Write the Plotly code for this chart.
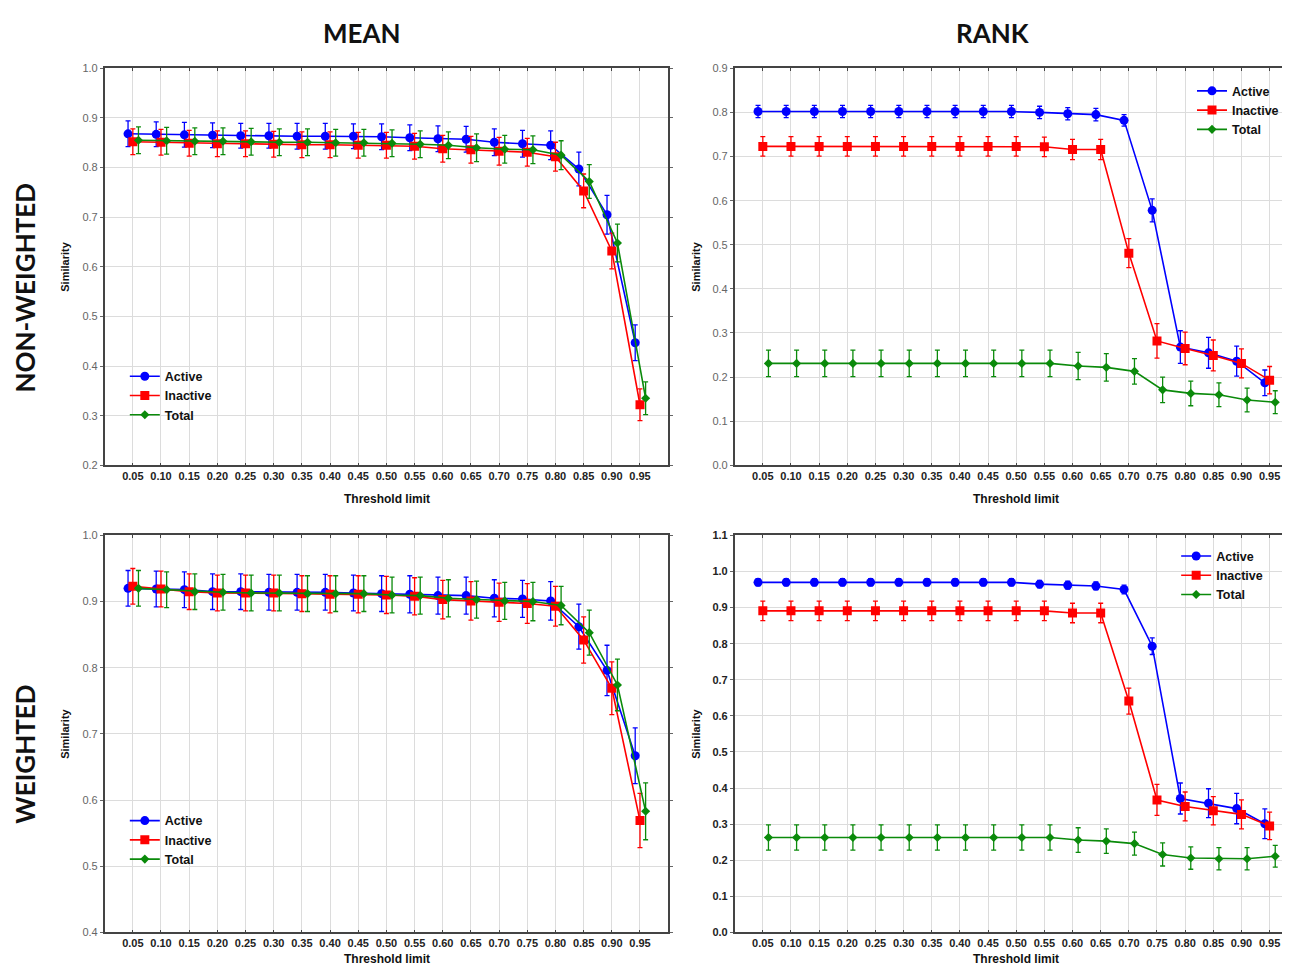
import plotly.graph_objects as go

thresholds = ["0.05", "0.10", "0.15", "0.20", "0.25", "0.30", "0.35", "0.40", "0.45", "0.50",
              "0.55", "0.60", "0.65", "0.70", "0.75", "0.80", "0.85", "0.90", "0.95"]
series_names = ["Active", "Inactive", "Total"]

# MEAN, non-weighted
mean_nw_active = [0.868, 0.867, 0.866, 0.865, 0.864, 0.864, 0.863, 0.863, 0.863, 0.862,
                  0.860, 0.858, 0.857, 0.851, 0.848, 0.845, 0.797, 0.705, 0.447]
mean_nw_active_err = [0.026, 0.025, 0.025, 0.025, 0.025, 0.025, 0.026, 0.026, 0.025, 0.026,
                      0.026, 0.026, 0.026, 0.027, 0.027, 0.029, 0.034, 0.039, 0.036]
mean_nw_inactive = [0.852, 0.851, 0.849, 0.848, 0.848, 0.847, 0.846, 0.846, 0.845, 0.845,
                    0.843, 0.838, 0.836, 0.833, 0.831, 0.822, 0.753, 0.632, 0.322]
mean_nw_inactive_err = [0.026, 0.026, 0.026, 0.026, 0.026, 0.026, 0.026, 0.026, 0.026, 0.026,
                        0.026, 0.027, 0.027, 0.028, 0.028, 0.029, 0.034, 0.036, 0.032]
mean_nw_total = [0.855, 0.854, 0.853, 0.853, 0.852, 0.851, 0.851, 0.850, 0.850, 0.849,
                 0.847, 0.845, 0.840, 0.837, 0.836, 0.825, 0.772, 0.648, 0.335]
mean_nw_total_err = [0.027, 0.027, 0.027, 0.027, 0.027, 0.027, 0.027, 0.027, 0.027, 0.027,
                     0.027, 0.027, 0.028, 0.028, 0.028, 0.029, 0.034, 0.038, 0.033]

# RANK, non-weighted
rank_nw_active = [0.802, 0.802, 0.802, 0.802, 0.802, 0.802, 0.802, 0.802, 0.802, 0.802,
                  0.800, 0.797, 0.795, 0.782, 0.578, 0.268, 0.255, 0.236, 0.187]
rank_nw_active_err = [0.014, 0.014, 0.014, 0.014, 0.014, 0.014, 0.014, 0.014, 0.014, 0.014,
                      0.014, 0.014, 0.014, 0.013, 0.026, 0.037, 0.035, 0.034, 0.029]
rank_nw_inactive = [0.723, 0.723, 0.723, 0.723, 0.723, 0.723, 0.723, 0.723, 0.723, 0.723,
                    0.722, 0.716, 0.716, 0.481, 0.282, 0.265, 0.249, 0.231, 0.193]
rank_nw_inactive_err = [0.022, 0.022, 0.022, 0.022, 0.022, 0.022, 0.022, 0.022, 0.022, 0.022,
                        0.022, 0.023, 0.023, 0.033, 0.039, 0.037, 0.035, 0.033, 0.031]
rank_nw_total = [0.231, 0.231, 0.231, 0.231, 0.231, 0.231, 0.231, 0.231, 0.231, 0.231,
                 0.231, 0.225, 0.222, 0.213, 0.171, 0.163, 0.160, 0.148, 0.143]
rank_nw_total_err = [0.030, 0.030, 0.030, 0.030, 0.030, 0.030, 0.030, 0.030, 0.030, 0.030,
                     0.030, 0.031, 0.031, 0.029, 0.029, 0.028, 0.027, 0.027, 0.026]

# MEAN, weighted
mean_w_active = [0.920, 0.919, 0.918, 0.915, 0.915, 0.914, 0.914, 0.914, 0.913, 0.912,
                 0.911, 0.909, 0.909, 0.905, 0.904, 0.901, 0.862, 0.796, 0.667]
mean_w_active_err = [0.027, 0.027, 0.027, 0.027, 0.027, 0.027, 0.027, 0.027, 0.027, 0.027,
                     0.028, 0.028, 0.028, 0.028, 0.028, 0.029, 0.034, 0.038, 0.042]
mean_w_inactive = [0.923, 0.919, 0.915, 0.913, 0.913, 0.913, 0.912, 0.911, 0.911, 0.910,
                   0.908, 0.903, 0.901, 0.899, 0.897, 0.893, 0.842, 0.769, 0.569]
mean_w_inactive_err = [0.027, 0.027, 0.027, 0.027, 0.027, 0.027, 0.027, 0.028, 0.028, 0.028,
                       0.028, 0.029, 0.029, 0.029, 0.030, 0.030, 0.035, 0.040, 0.041]
mean_w_total = [0.920, 0.918, 0.915, 0.914, 0.913, 0.913, 0.912, 0.912, 0.912, 0.910,
                0.909, 0.905, 0.903, 0.901, 0.900, 0.894, 0.853, 0.774, 0.583]
mean_w_total_err = [0.027, 0.027, 0.027, 0.027, 0.027, 0.027, 0.027, 0.027, 0.027, 0.027,
                    0.028, 0.028, 0.028, 0.028, 0.029, 0.029, 0.034, 0.039, 0.043]

# RANK, weighted
rank_w_active = [0.970, 0.970, 0.970, 0.970, 0.970, 0.970, 0.970, 0.970, 0.970, 0.970,
                 0.965, 0.962, 0.960, 0.950, 0.793, 0.371, 0.358, 0.343, 0.301]
rank_w_active_err = [0.010, 0.010, 0.010, 0.010, 0.010, 0.010, 0.010, 0.010, 0.010, 0.010,
                     0.010, 0.011, 0.011, 0.012, 0.023, 0.043, 0.040, 0.042, 0.041]
rank_w_inactive = [0.891, 0.891, 0.891, 0.891, 0.891, 0.891, 0.891, 0.891, 0.891, 0.891,
                   0.891, 0.885, 0.885, 0.641, 0.367, 0.349, 0.337, 0.327, 0.295]
rank_w_inactive_err = [0.027, 0.027, 0.027, 0.027, 0.027, 0.027, 0.027, 0.027, 0.027, 0.027,
                       0.027, 0.027, 0.027, 0.036, 0.043, 0.040, 0.039, 0.040, 0.038]
rank_w_total = [0.263, 0.263, 0.263, 0.263, 0.263, 0.263, 0.263, 0.263, 0.263, 0.263,
                0.263, 0.256, 0.253, 0.246, 0.216, 0.206, 0.204, 0.204, 0.211]
rank_w_total_err = [0.035, 0.035, 0.035, 0.035, 0.035, 0.035, 0.035, 0.035, 0.035, 0.035,
                    0.035, 0.034, 0.034, 0.032, 0.032, 0.031, 0.031, 0.031, 0.030]

# The page body has an 8px margin; keep the figure inside the window.
PAGE_OFF = 8
W, H = 1276, 962


def px(x):
    return (x - PAGE_OFF) / W


def py(y):
    return 1 - (y - PAGE_OFF) / H


colors = {"Active": "#0000ff", "Inactive": "#ff0000", "Total": "#0a8a0a"}
symbols = {"Active": "circle", "Inactive": "square", "Total": "diamond"}
sizes = {"Active": 9, "Inactive": 9, "Total": 7}
offsets = {"Active": -0.17, "Inactive": 0.0, "Total": 0.2}

panels = [
    ("", (mean_nw_active, mean_nw_active_err, mean_nw_inactive, mean_nw_inactive_err,
          mean_nw_total, mean_nw_total_err), "legend", (104.8, 669.2), (63, 465), (0.2, 1.0), False,
     (-1, 19), True),
    ("2", (rank_nw_active, rank_nw_active_err, rank_nw_inactive, rank_nw_inactive_err,
           rank_nw_total, rank_nw_total_err), "legend2", (735.8, 1284), (63, 465), (0.0, 0.9), False,
     (-1, 18.44), False),
    ("3", (mean_w_active, mean_w_active_err, mean_w_inactive, mean_w_inactive_err,
           mean_w_total, mean_w_total_err), "legend3", (104.8, 669.2), (536, 938), (0.4, 1.0), False,
     (-1, 19), True),
    ("4", (rank_w_active, rank_w_active_err, rank_w_inactive, rank_w_inactive_err,
           rank_w_total, rank_w_total_err), "legend4", (735.8, 1284), (536, 938), (0.0, 1.1), True,
     (-1, 18.44), False),
]

fig = go.Figure()
layout = {}
tick_idx = list(range(len(thresholds)))

for suffix, data, legname, xpx, ypx, yr, bold_y, xr, full_box in panels:
    xa = "x" + suffix
    ya = "y" + suffix
    for k, name in enumerate(series_names):
        vals = data[2 * k]
        errs = data[2 * k + 1]
        fig.add_trace(go.Scatter(
            x=[i + offsets[name] for i in tick_idx], y=vals,
            mode="lines+markers", name=name, xaxis=xa, yaxis=ya, legend=legname,
            line=dict(color=colors[name], width=1.6),
            marker=dict(color=colors[name], symbol=symbols[name], size=sizes[name]),
            error_y=dict(type="data", array=errs, visible=True, color=colors[name],
                         thickness=1.3, width=2.5),
        ))
    xdom = [max(px(xpx[0]), 0), min(px(xpx[1]), 1.0)]
    ydom = [py(ypx[1]), py(ypx[0])]
    layout["xaxis" + suffix] = dict(
        domain=xdom, anchor=ya, range=list(xr), tickmode="array", tickvals=tick_idx,
        ticktext=thresholds, showgrid=True, gridcolor="#dcdcdc", gridwidth=1,
        showline=True, linecolor="#444", linewidth=1.5, mirror="ticks",
        ticks="inside", ticklen=3, tickcolor="#444", zeroline=False,
        tickfont=dict(family="Liberation Sans", size=11, color="#222", weight="bold"),
    )
    layout["yaxis" + suffix] = dict(
        domain=ydom, anchor=xa, range=list(yr), dtick=0.1, tickformat=".1f",
        showgrid=True, gridcolor="#dcdcdc", gridwidth=1,
        showline=True, linecolor="#444", linewidth=1.5,
        mirror="ticks" if full_box else False,
        ticks="outside", ticklen=3, tickcolor="#666", zeroline=False,
        tickfont=dict(family="Liberation Sans", size=11,
                      color="#222" if bold_y else "#666",
                      weight="bold" if bold_y else "normal"),
    )
    layout[legname] = dict(
        bgcolor="rgba(0,0,0,0)", borderwidth=0, tracegroupgap=0,
        font=dict(family="Liberation Sans", size=12.5, color="#111", weight="bold"),
        itemwidth=30, xanchor="left", yanchor="top",
    )

layout["legend"].update(x=px(125), y=py(360))
layout["legend2"].update(x=px(1194), y=py(71))
layout["legend3"].update(x=px(125), y=py(810))
layout["legend4"].update(x=px(1178), y=py(542))

annotations = []


def ann(text, xp, yp, size, angle=0, family="Lato", color="#111"):
    annotations.append(dict(text=text, x=px(xp), y=py(yp), xref="paper", yref="paper",
                            showarrow=False, textangle=angle, xanchor="center", yanchor="middle",
                            font=dict(family=family, size=size, color=color, weight="bold")))


ann("MEAN", 363, 27, 26)
ann("RANK", 995, 27, 26)
ann("NON-WEIGHTED", 25, 285, 26, angle=-90)
ann("WEIGHTED", 25, 757, 26, angle=-90)
for (xp, yp) in [(65, 264), (697, 264), (65, 737), (697, 737)]:
    ann("Similarity", xp, yp, 11, angle=-90, family="Liberation Sans")
for (xp, yp) in [(388, 499), (1018, 499), (388, 965), (1018, 965)]:
    ann("Threshold limit", xp, yp, 12, family="Liberation Sans")

fig.update_layout(
    width=W, height=H, margin=dict(l=0, r=0, t=0, b=0),
    paper_bgcolor="white", plot_bgcolor="white", showlegend=True,
    annotations=annotations, **layout,
)

fig.write_html("out.html")
